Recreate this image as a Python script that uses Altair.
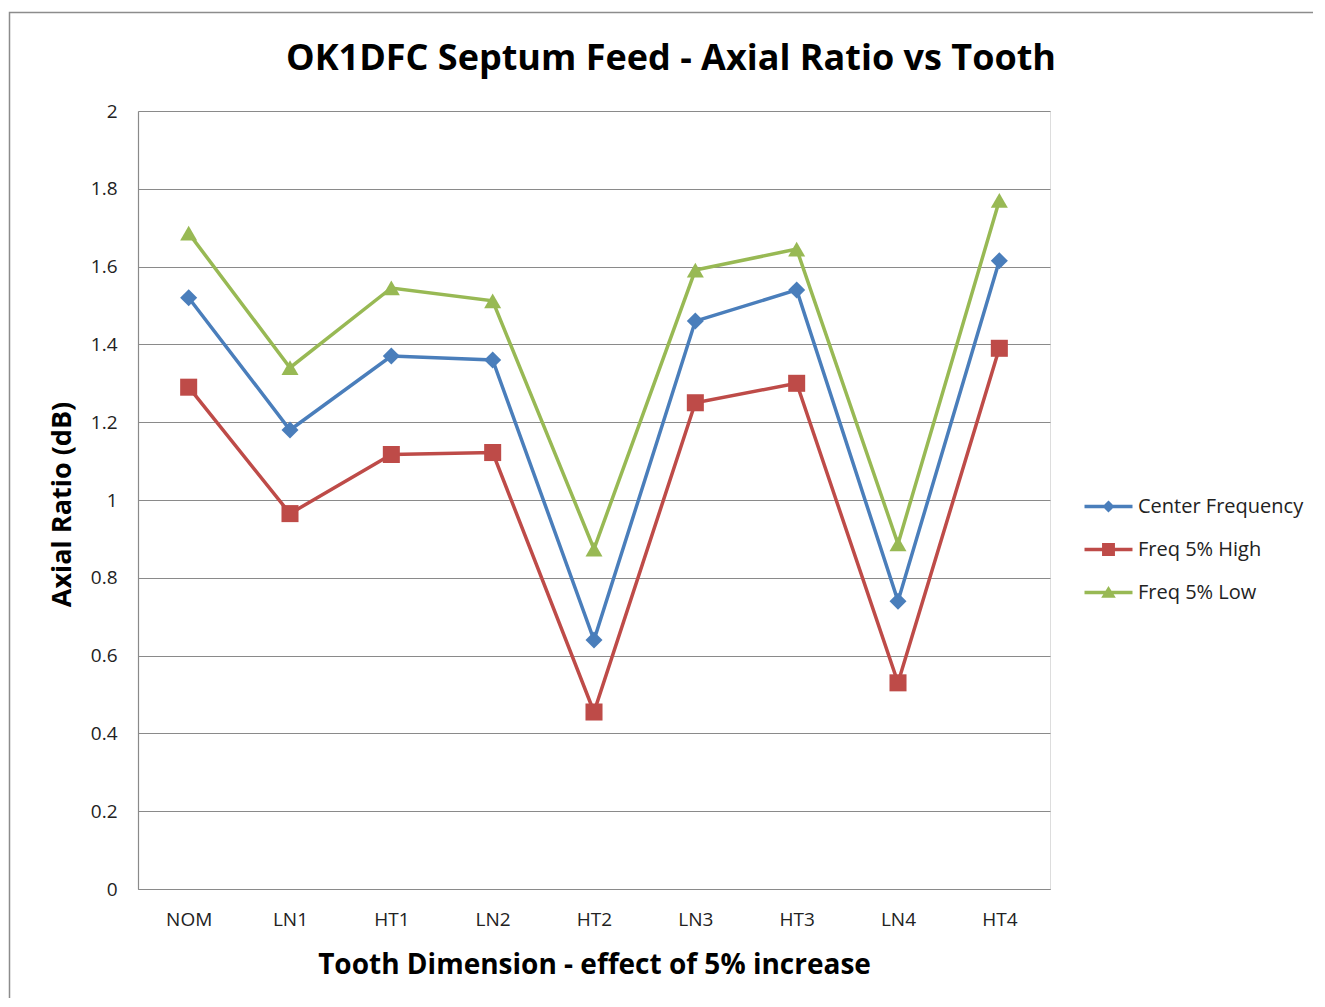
import altair as alt
import pandas as pd

categories = ["NOM", "LN1", "HT1", "LN2", "HT2", "LN3", "HT3", "LN4", "HT4"]
series_names = ["Center Frequency", "Freq 5% High", "Freq 5% Low"]
center_freq = [1.52, 1.18, 1.37, 1.36, 0.64, 1.46, 1.54, 0.74, 1.615]
freq_high = [1.29, 0.965, 1.117, 1.122, 0.455, 1.25, 1.30, 0.53, 1.39]
freq_low = [1.686, 1.34, 1.545, 1.512, 0.874, 1.591, 1.645, 0.887, 1.77]
y_ticks = [0, 0.2, 0.4, 0.6, 0.8, 1.0, 1.2, 1.4, 1.6, 1.8, 2.0]
colors = ["#4A7EBB", "#BE4B48", "#98B954"]
marker_shapes = ["diamond", "square", "triangle-up"]
legend_shapes = [
    "M-1.116,-0.081 H1.116 V0.081 H-1.116 Z M0,-0.28 L0.28,0 L0,0.28 L-0.28,0 Z",
    "M-1.116,-0.081 H1.116 V0.081 H-1.116 Z M-0.3,-0.3 H0.3 V0.3 H-0.3 Z",
    "M-1.116,-0.081 H1.116 V0.081 H-1.116 Z M0,-0.3 L0.34,0.24 L-0.34,0.24 Z",
]

rows = []
for name, vals in zip(series_names, [center_freq, freq_high, freq_low]):
    for c, v in zip(categories, vals):
        rows.append({"cat": c, "series": name, "value": v})
df = pd.DataFrame(rows)

FONT = "Open Sans"
GRID = "#8A8A8A"

x_enc = alt.X(
    "cat:N",
    sort=categories,
    scale=alt.Scale(type="point", padding=0.5),
    axis=alt.Axis(
        title="Tooth Dimension - effect of 5% increase",
        titleFont=FONT, titleFontSize=28, titleFontWeight="bold", titleColor="#000000",
        titleX=456, titleY=76, titleBaseline="middle",
        labelFont=FONT, labelFontSize=19, labelColor="#222222",
        labelPadding=21, ticks=False, tickSize=0,
        domainColor=GRID, domainWidth=1.2, grid=False, labelAngle=0,
    ),
)
y_enc = alt.Y(
    "value:Q",
    scale=alt.Scale(domain=[0, 2], nice=False),
    axis=alt.Axis(
        title="Axial Ratio (dB)",
        titleFont=FONT, titleFontSize=27, titleFontWeight="bold", titleColor="#000000",
        titleX=-76, titleY=393, titleBaseline="middle", titleAlign="center", titleAngle=-90,
        labelFont=FONT, labelFontSize=19, labelColor="#222222",
        labelPadding=21, ticks=False, tickSize=0, values=y_ticks, format="~g",
        domainColor=GRID, domainWidth=1.2, grid=True, gridColor=GRID, gridWidth=1.2,
    ),
)

color_plot = alt.Color("series:N", scale=alt.Scale(domain=series_names, range=colors), legend=None)

lines = alt.Chart(df).mark_line(strokeWidth=3.5).encode(x=x_enc, y=y_enc, color=color_plot)
points = alt.Chart(df).mark_point(filled=True, size=290, opacity=1).encode(
    x=x_enc, y=y_enc, color=color_plot,
    shape=alt.Shape("series:N", scale=alt.Scale(domain=series_names, range=marker_shapes), legend=None),
)
plot = alt.layer(lines, points)

legend_cfg = alt.Legend(
    title=None, orient="none", legendX=949, legendY=374,
    labelFont=FONT, labelFontSize=20, labelColor="#222222", labelLimit=400,
    symbolSize=1849, symbolStrokeWidth=0, rowPadding=11, labelOffset=8, padding=0,
)
legend_layer = alt.Chart(df).transform_filter("false").mark_point(filled=True, opacity=1).encode(
    x=alt.X("cat:N", sort=categories, scale=alt.Scale(type="point", padding=0.5)),
    y=alt.Y("value:Q"),
    color=alt.Color("series:N", scale=alt.Scale(domain=series_names, range=colors), legend=legend_cfg),
    shape=alt.Shape("series:N", scale=alt.Scale(domain=series_names, range=legend_shapes), legend=legend_cfg),
)

frame = alt.Chart(pd.DataFrame({"a": [0]})).mark_rect(
    filled=False, stroke="#8C8C8C", strokeWidth=1.5
).encode(x=alt.value(-128.5), x2=alt.value(3000), y=alt.value(-98.5), y2=alt.value(3000))

chart = alt.layer(frame, plot, legend_layer).resolve_scale(
    color="independent", shape="independent"
).properties(
    width=912, height=778,
    title=alt.TitleParams(
        "OK1DFC Septum Feed - Axial Ratio vs Tooth",
        font=FONT, fontSize=36, fontWeight="bold", color="#000000",
        anchor="middle", dx=77, offset=0, dy=66,
    ),
    autosize=alt.AutoSizeParams(type="none"),
    padding={"left": 130, "top": 103, "right": 263, "bottom": 109},
).configure_view(stroke=None).configure(background="white")

chart.save("out.html", embed_options={"renderer": "svg", "actions": False})
